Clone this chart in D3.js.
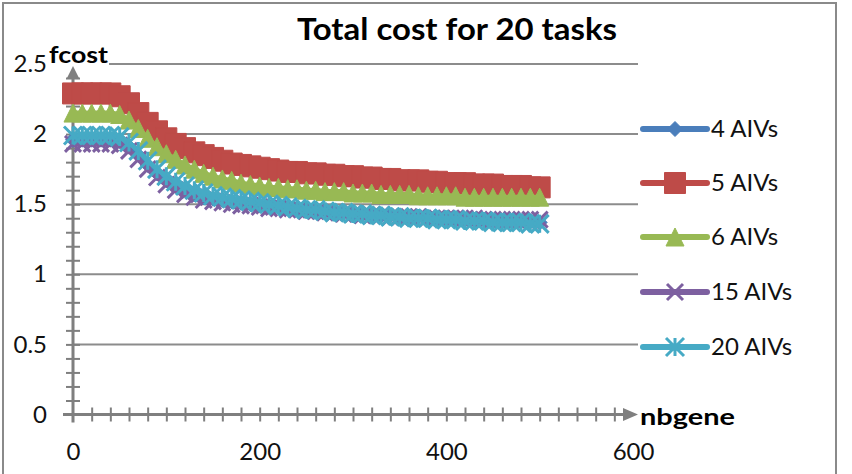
<!DOCTYPE html>
<html>
<head>
<meta charset="UTF-8">
<title>Total cost for 20 tasks</title>
<script src="https://cdn.jsdelivr.net/npm/d3@7"></script>
<style>
  body { margin: 0; background: #fff; font-family: Lato, "Open Sans", sans-serif; }
</style>
</head>
<body>
<div id="chart"></div>
<script>
// x values (nbgene)
var nbgene = [0, 10, 20, 30, 40, 50, 60, 70, 80, 90,
  100, 110, 120, 130, 140, 150, 160, 170, 180, 190,
  200, 210, 220, 230, 240, 250, 260, 270, 280, 290,
  300, 310, 320, 330, 340, 350, 360, 370, 380, 390,
  400, 410, 420, 430, 440, 450, 460, 470, 480, 490, 500];

// fcost per series
var aiv4 = [1.96, 1.96, 1.96, 1.96, 1.96, 1.95, 1.91, 1.85, 1.78, 1.72,
  1.67, 1.63, 1.60, 1.57, 1.55, 1.54, 1.53, 1.52, 1.51, 1.50,
  1.49, 1.48, 1.48, 1.47, 1.46, 1.46, 1.45, 1.45, 1.44, 1.44,
  1.43, 1.43, 1.42, 1.42, 1.42, 1.41, 1.41, 1.41, 1.40, 1.40,
  1.40, 1.39, 1.39, 1.39, 1.39, 1.38, 1.38, 1.38, 1.38, 1.38, 1.37];
var aiv5 = [2.29, 2.29, 2.29, 2.29, 2.29, 2.27, 2.22, 2.15, 2.08, 2.02,
  1.97, 1.93, 1.90, 1.87, 1.85, 1.83, 1.81, 1.79, 1.78, 1.77,
  1.76, 1.75, 1.74, 1.73, 1.73, 1.72, 1.72, 1.71, 1.71, 1.70,
  1.70, 1.69, 1.69, 1.68, 1.68, 1.67, 1.67, 1.67, 1.66, 1.66,
  1.65, 1.65, 1.65, 1.64, 1.64, 1.64, 1.63, 1.63, 1.63, 1.62, 1.62];
var aiv6 = [2.15, 2.15, 2.15, 2.15, 2.15, 2.14, 2.10, 2.04, 1.97, 1.91,
  1.86, 1.82, 1.78, 1.75, 1.72, 1.70, 1.68, 1.67, 1.65, 1.64,
  1.63, 1.62, 1.62, 1.61, 1.61, 1.60, 1.60, 1.59, 1.59, 1.59,
  1.58, 1.58, 1.58, 1.57, 1.57, 1.57, 1.57, 1.56, 1.56, 1.56,
  1.56, 1.56, 1.55, 1.55, 1.55, 1.55, 1.55, 1.55, 1.55, 1.55, 1.55];
var aiv15 = [1.93, 1.93, 1.93, 1.93, 1.93, 1.92, 1.88, 1.82, 1.75, 1.69,
  1.64, 1.60, 1.57, 1.55, 1.53, 1.52, 1.51, 1.50, 1.49, 1.49,
  1.48, 1.47, 1.47, 1.46, 1.46, 1.45, 1.45, 1.44, 1.44, 1.43,
  1.43, 1.42, 1.42, 1.42, 1.41, 1.41, 1.41, 1.41, 1.40, 1.40,
  1.40, 1.40, 1.40, 1.40, 1.39, 1.39, 1.39, 1.39, 1.39, 1.39, 1.39];
var aiv20 = [1.99, 1.99, 1.99, 1.99, 1.99, 1.98, 1.94, 1.88, 1.81, 1.75,
  1.70, 1.66, 1.63, 1.60, 1.58, 1.56, 1.55, 1.54, 1.53, 1.52,
  1.51, 1.50, 1.49, 1.48, 1.47, 1.46, 1.46, 1.45, 1.44, 1.44,
  1.43, 1.43, 1.42, 1.42, 1.41, 1.41, 1.40, 1.40, 1.40, 1.39,
  1.39, 1.39, 1.38, 1.38, 1.38, 1.37, 1.37, 1.37, 1.37, 1.36, 1.36];

var seriesNames = ["4 AIVs", "5 AIVs", "6 AIVs", "15 AIVs", "20 AIVs"];
var seriesValues = [aiv4, aiv5, aiv6, aiv15, aiv20];
var yTicks = [0, 0.5, 1, 1.5, 2, 2.5];
var xTicks = [0, 200, 400, 600];

// styles
var colors = ["#4a7ebb", "#be4b48", "#98b954", "#7d60a0", "#46aac5"];
var shapes = ["diamond", "square", "triangle", "x", "star"];
var sizes = [15, 21, 18, 16, 18];

var width = 852, height = 474;
var axisColor = "#7f7f7f";
var font = 'Lato, "Open Sans", sans-serif';

var svg = d3.select('#chart')
  .append('svg')
  .attr('width', width)
  .attr('height', height)
  .attr('font-family', font);

svg.append('rect').attr('width', width).attr('height', height).attr('fill', '#fff');

// chart border
svg.append('rect')
  .attr('x', 3).attr('y', 3)
  .attr('width', 833).attr('height', 480)
  .attr('fill', 'none')
  .attr('stroke', '#8a8a8a')
  .attr('stroke-width', 2);

var x = d3.scaleLinear().domain([0, 600]).range([73, 633]);
var y = d3.scaleLinear().domain([0, 2.5]).range([414.5, 64]);

// gridlines
svg.append('g')
  .selectAll('line')
  .data(yTicks.filter(d => d > 0))
  .enter()
  .append('line')
  .attr('x1', x(0)).attr('x2', 638)
  .attr('y1', d => y(d)).attr('y2', d => y(d))
  .attr('stroke', '#8c8c8c')
  .attr('stroke-width', 2);

// minor ticks crossing the axes
var yMinor = d3.range(1, 25).map(d => d / 10);
var xMinor = d3.range(20, 600, 20);

var gy = svg.append('g')
  .attr('transform', 'translate(' + (x(0) + 7) + ',0)')
  .call(d3.axisLeft(y).tickValues(yMinor).tickSize(14).tickFormat(''));
gy.select('.domain').remove();
gy.selectAll('line').attr('stroke', axisColor).attr('stroke-width', 2);

var gx = svg.append('g')
  .attr('transform', 'translate(0,' + (y(0) - 7) + ')')
  .call(d3.axisBottom(x).tickValues(xMinor).tickSize(14).tickFormat(''));
gx.select('.domain').remove();
gx.selectAll('line').attr('stroke', axisColor).attr('stroke-width', 2);

// axis lines with arrows
svg.append('line')
  .attr('x1', x(0)).attr('x2', x(0))
  .attr('y1', y(0) + 8).attr('y2', y(2.5) + 12)
  .attr('stroke', axisColor).attr('stroke-width', 3);
svg.append('path')
  .attr('d', 'M' + x(0) + ',' + (y(2.5) + 2) + 'l-6.5,13h13z')
  .attr('fill', axisColor);

svg.append('line')
  .attr('x1', x(0) - 10).attr('x2', x(600) - 8)
  .attr('y1', y(0)).attr('y2', y(0))
  .attr('stroke', axisColor).attr('stroke-width', 3);
svg.append('path')
  .attr('d', 'M' + (x(600) + 5) + ',' + y(0) + 'l-15,-6.5v13z')
  .attr('fill', axisColor);

// tick labels
var gyl = svg.append('g')
  .attr('transform', 'translate(47,0)')
  .call(d3.axisLeft(y).tickValues(yTicks).tickSize(0).tickPadding(0).tickFormat(d3.format('')));
gyl.select('.domain').remove();
gyl.attr('font-family', font).attr('font-size', 24);
gyl.selectAll('text').attr('fill', '#111');

var gxl = svg.append('g')
  .attr('transform', 'translate(0,443)')
  .call(d3.axisBottom(x).tickValues(xTicks).tickSize(0).tickPadding(0).tickFormat(d3.format('')));
gxl.select('.domain').remove();
gxl.attr('font-family', font).attr('font-size', 24);
gxl.selectAll('text').attr('fill', '#111');

// markers
function markerPath(shape, s) {
  var h = s / 2;
  switch (shape) {
    case 'diamond': return 'M0,' + (-h) + 'L' + h + ',0L0,' + h + 'L' + (-h) + ',0Z';
    case 'square': return 'M' + (-h) + ',' + (-h) + 'H' + h + 'V' + h + 'H' + (-h) + 'Z';
    case 'triangle': return 'M0,' + (-h) + 'L' + h + ',' + h + 'L' + (-h) + ',' + h + 'Z';
    case 'x': return 'M' + (-h) + ',' + (-h) + 'L' + h + ',' + h + 'M' + h + ',' + (-h) + 'L' + (-h) + ',' + h;
    case 'star': return 'M' + (-h) + ',' + (-h) + 'L' + h + ',' + h + 'M' + h + ',' + (-h) + 'L' + (-h) + ',' + h + 'M0,' + (-h) + 'V' + h;
  }
}

function styleMarker(sel, i) {
  var stroked = shapes[i] === 'x' || shapes[i] === 'star';
  sel.attr('d', markerPath(shapes[i], sizes[i]))
    .attr('fill', stroked ? 'none' : colors[i])
    .attr('stroke', colors[i])
    .attr('stroke-width', stroked ? 3 : 1);
}

var line = d3.line()
  .x(d => x(d.x))
  .y(d => y(d.v));

seriesValues.forEach(function (vals, i) {
  var pts = nbgene.map((n, k) => ({ x: n, v: vals[k] }));
  var g = svg.append('g');
  g.append('path')
    .datum(pts)
    .attr('d', line)
    .attr('fill', 'none')
    .attr('stroke', colors[i])
    .attr('stroke-width', 5);
  g.selectAll('path.m')
    .data(pts)
    .enter()
    .append('path')
    .attr('class', 'm')
    .attr('transform', d => 'translate(' + x(d.x) + ',' + y(d.v) + ')')
    .call(styleMarker, i);
});

// legend
var legendY = [129, 183, 237, 292, 347];
var legend = svg.append('g');
seriesNames.forEach(function (name, i) {
  var ly = legendY[i];
  legend.append('line')
    .attr('x1', 643).attr('x2', 707)
    .attr('y1', ly).attr('y2', ly)
    .attr('stroke', colors[i])
    .attr('stroke-width', 6)
    .attr('stroke-linecap', 'round');
  legend.append('path')
    .attr('transform', 'translate(675,' + ly + ')')
    .call(styleMarker, i);
  legend.append('text')
    .attr('x', 711).attr('y', ly + 8)
    .attr('font-size', 24)
    .attr('fill', '#111')
    .text(name);
});

// titles
svg.append('text')
  .attr('x', 457).attr('y', 40)
  .attr('text-anchor', 'middle')
  .attr('font-size', 30)
  .attr('font-weight', 'bold')
  .attr('fill', '#000')
  .attr('textLength', 320)
  .attr('lengthAdjust', 'spacingAndGlyphs')
  .text('Total cost for 20 tasks');

svg.append('rect')
  .attr('x', 49).attr('y', 45).attr('width', 60).attr('height', 21)
  .attr('fill', '#fff');
svg.append('text')
  .attr('x', 49).attr('y', 63)
  .attr('font-size', 22)
  .attr('font-weight', 'bold')
  .attr('fill', '#000')
  .attr('textLength', 59)
  .attr('lengthAdjust', 'spacingAndGlyphs')
  .text('fcost');

svg.append('text')
  .attr('x', 640).attr('y', 425)
  .attr('font-size', 22)
  .attr('font-weight', 'bold')
  .attr('fill', '#000')
  .attr('textLength', 95)
  .attr('lengthAdjust', 'spacingAndGlyphs')
  .text('nbgene');
</script>
</body>
</html>
